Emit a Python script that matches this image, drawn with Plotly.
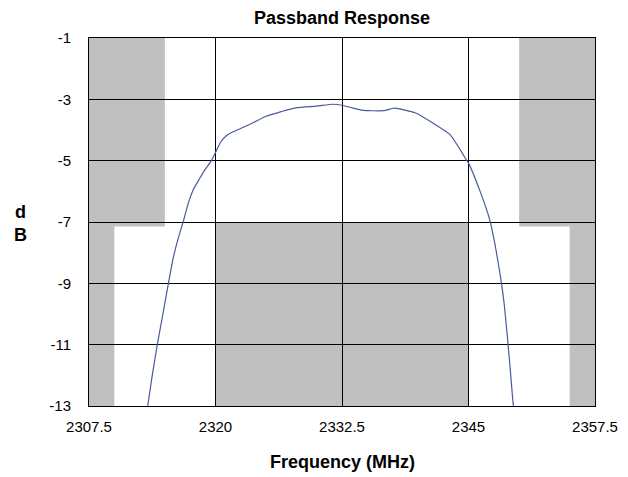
import plotly.graph_objects as go

# ---- data ----
freq_mhz = [2313.3, 2313.75, 2314.25, 2314.8, 2315.35, 2315.8, 2316.3, 2316.8, 2317.3, 2317.8,
            2318.4, 2318.95, 2319.6, 2320.05, 2320.5, 2321.1, 2321.8, 2322.7, 2323.8, 2325.0,
            2326.5, 2328.0, 2330.0, 2331.6, 2332.6, 2333.5, 2334.6, 2336.6, 2337.6, 2338.2,
            2339.9, 2341.5, 2343.2, 2344.8, 2345.0, 2346.1, 2347.1, 2347.6, 2348.1, 2348.5,
            2348.8, 2349.1, 2349.4, 2349.45]
response_db = [-13.0, -12.0, -11.0, -10.0, -9.0, -8.2, -7.55, -7.0, -6.4, -5.95,
               -5.6, -5.3, -5.0, -4.7, -4.4, -4.18, -4.05, -3.92, -3.75, -3.55,
               -3.4, -3.27, -3.22, -3.16, -3.2, -3.28, -3.36, -3.37, -3.29, -3.31,
               -3.46, -3.78, -4.16, -4.98, -5.08, -5.96, -6.93, -7.7, -8.66, -9.6,
               -10.6, -11.7, -12.9, -13.0]

# mask regions (polygons in MHz / dB)
mask_left_x = [2307.5, 2315, 2315, 2310, 2310, 2307.5]
mask_left_y = [-1, -1, -7.15, -7.15, -13, -13]
mask_mid_x = [2320, 2345, 2345, 2320]
mask_mid_y = [-7, -7, -13, -13]
mask_right_x = [2350, 2357.5, 2357.5, 2355, 2355, 2350]
mask_right_y = [-1, -1, -13, -13, -7.15, -7.15]

x_ticks = [2307.5, 2320, 2332.5, 2345, 2357.5]
x_tick_labels = ["2307.5", "2320", "2332.5", "2345", "2357.5"]
y_ticks = [-1, -3, -5, -7, -9, -11, -13]
y_tick_labels = ["-1", "-3", "-5", "-7", "-9", "-11", "-13"]

FONT = "Liberation Sans, Arial, sans-serif"
W, H = 620, 469   # page adds an 8px body margin

def poly_path(xs, ys):
    pts = [f"{x},{y}" for x, y in zip(xs, ys)]
    return "M " + " L ".join(pts) + " Z"

fig = go.Figure()
fig.add_trace(go.Scatter(x=freq_mhz, y=response_db, mode="lines",
                         line=dict(color="#4a5a9c", width=1.2, shape="spline", smoothing=0.5),
                         showlegend=False, hoverinfo="x+y"))

for xs, ys in [(mask_left_x, mask_left_y), (mask_mid_x, mask_mid_y), (mask_right_x, mask_right_y)]:
    fig.add_shape(type="path", path=poly_path(xs, ys), xref="x", yref="y",
                  fillcolor="#c0c0c0", line=dict(width=0), layer="below")

fig.update_layout(
    width=W, height=H,
    margin=dict(l=81, r=33, t=30, b=71, autoexpand=False),
    paper_bgcolor="white", plot_bgcolor="white",
    font=dict(family=FONT, size=15, color="black"),
    title=dict(text="<b>Passband Response</b>", x=334 / W, xanchor="center",
               y=1 - 10 / H, yanchor="middle", yref="container",
               font=dict(family=FONT, size=18, color="black")),
    xaxis=dict(range=[2307.5, 2357.5], tickvals=x_ticks, ticktext=x_tick_labels,
               showgrid=True, gridcolor="black", gridwidth=1,
               showline=True, linecolor="black", linewidth=1, mirror=True,
               zeroline=False, ticks="", ticklabelstandoff=7, automargin=False,
               tickfont=dict(family=FONT, size=15, color="black")),
    yaxis=dict(range=[-13, -1], tickvals=y_ticks, ticktext=y_tick_labels,
               showgrid=True, gridcolor="black", gridwidth=1,
               showline=True, linecolor="black", linewidth=1, mirror=True,
               zeroline=False, ticks="", ticklabelstandoff=14, automargin=False,
               tickfont=dict(family=FONT, size=15, color="black")),
    annotations=[
        dict(text="<b>Frequency (MHz)</b>", xref="paper", yref="paper",
             x=0.5, y=(406 - 462) / 368, xanchor="center", yanchor="middle",
             showarrow=False, font=dict(family=FONT, size=18, color="black")),
        dict(text="<b>d</b><br><b>B</b>", xref="paper", yref="paper",
             x=(20 - 89) / 506, y=(406 - 223) / 368, xanchor="center", yanchor="middle",
             showarrow=False, font=dict(family=FONT, size=18, color="black")),
    ],
)

fig.write_html("out.html")
